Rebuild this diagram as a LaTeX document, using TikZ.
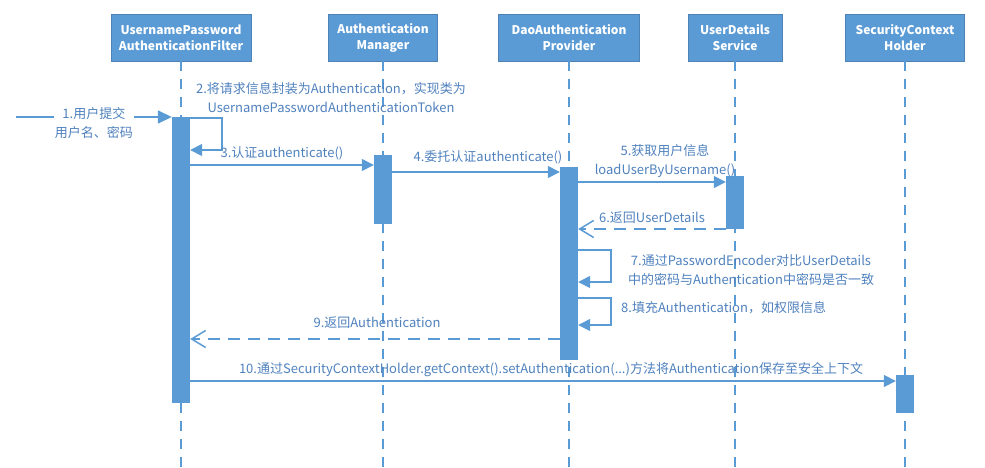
\documentclass[tikz,border=0pt]{standalone}
\usepackage{fontspec}
\setmainfont{Noto Sans CJK SC}
\usepackage{tikz}
\usetikzlibrary{arrows.meta, positioning, calc}
\definecolor{seqblue}{HTML}{5B9BD5}
\definecolor{seqtext}{HTML}{4F81BD}

\begin{document}
\begin{tikzpicture}[x=1pt, y=-1pt,
  head/.style={rectangle, fill=seqblue, draw=seqblue!85!black, text=white,
    align=center, minimum height=47pt, inner sep=2pt,
    font=\fontsize{12}{16}\selectfont\bfseries},
  life/.style={seqblue, line width=2pt, dash pattern=on 10pt off 8pt},
  bar/.style={rectangle, fill=seqblue, minimum width=18pt, inner sep=0pt},
  msg/.style={seqblue, line width=1.5pt, -{Triangle[length=12pt,width=12pt]}},
  ret/.style={seqblue, line width=1.5pt, dash pattern=on 12pt off 8pt,
    -{Straight Barb[length=14pt,width=17pt]}},
  lbl/.style={text=seqtext, font=\fontsize{13}{19}\selectfont, align=center, inner sep=1pt}
]
  \useasboundingbox (0,0) rectangle (985,468);

  % Headers
  \node[head, minimum width=140pt] (filter)   at (181,37.5) {UsernamePassword\\AuthenticationFilter};
  \node[head, minimum width=109pt] (manager)  at (383,37.5) {Authentication\\Manager};
  \node[head, minimum width=141pt] (provider) at (569,37.5) {DaoAuthentication\\Provider};
  \node[head, minimum width=94pt]  (service)  at (735,37.5) {UserDetails\\Service};
  \node[head, minimum width=119pt] (holder)   at (905,37.5) {SecurityContext\\Holder};

  % Lifelines
  \foreach \n in {filter, manager, provider, service, holder}
    \draw[life] (\n.south) -- (\n.south |- 0,468);

  % Activation bars
  \node[bar, minimum height=286pt] (fbar) at (181,260)   {};
  \node[bar, minimum height=69pt]  (mbar) at (383,189.5) {};
  \node[bar, minimum height=193pt] (pbar) at (569,263.5) {};
  \node[bar, minimum height=53pt]  (ubar) at (735,202.5) {};
  \node[bar, minimum height=38pt]  (hbar) at (905,394)   {};
  \coordinate (user) at (16,117);

  % Messages
  \draw[msg, -{Triangle[length=14pt,width=13pt]}] (user) -- node[lbl, fill=white, pos=0.5, yshift=-6pt] {1.用户提交\\用户名、密码} (fbar.west |- user);
  \draw[msg] (fbar.east |- 0,118) -- ++(32,0) |- (fbar.east |- 0,150);
  \node[lbl] (l2) at (331,98) {2.将请求信息封装为Authentication，实现类为\\UsernamePasswordAuthenticationToken};
  \draw[msg] (fbar.east |- 0,165) -- node[lbl, above=3pt] {3.认证authenticate()} (mbar.west |- 0,165);
  \draw[msg] (mbar.east |- 0,172) -- (pbar.west |- 0,172);
  \node[lbl] (l4) at (488,157) {4.委托认证authenticate()};
  \draw[msg] (pbar.east |- 0,182) -- (ubar.west |- 0,182);
  \node[lbl] (l5) at (665,161) {5.获取用户信息\\loadUserByUsername()};
  \draw[ret] (ubar.west |- 0,229) -- node[lbl, above=4pt] {6.返回UserDetails} (pbar.east |- 0,229);
  \draw[msg] (pbar.east |- 0,250) -- ++(33,0) |- (pbar.east |- 0,282);
  \node[lbl] (l7) at (751,270) {7.通过PasswordEncoder对比UserDetails\\中的密码与Authentication中密码是否一致};
  \draw[msg] (pbar.east |- 0,298) -- ++(33,0) |- (pbar.east |- 0,325);
  \node[lbl, anchor=west] (l8) at (620,308) {8.填充Authentication，如权限信息};
  \draw[ret] (pbar.west |- 0,339) -- (fbar.east |- 0,339);
  \node[lbl] (l9) at (377,323) {9.返回Authentication};
  \draw[msg] (fbar.east |- 0,381) -- (hbar.west |- 0,381);
  \node[lbl] (l10) at (551,370) {10.通过SecurityContextHolder.getContext().setAuthentication(...)方法将Authentication保存至安全上下文};
\end{tikzpicture}
\end{document}
